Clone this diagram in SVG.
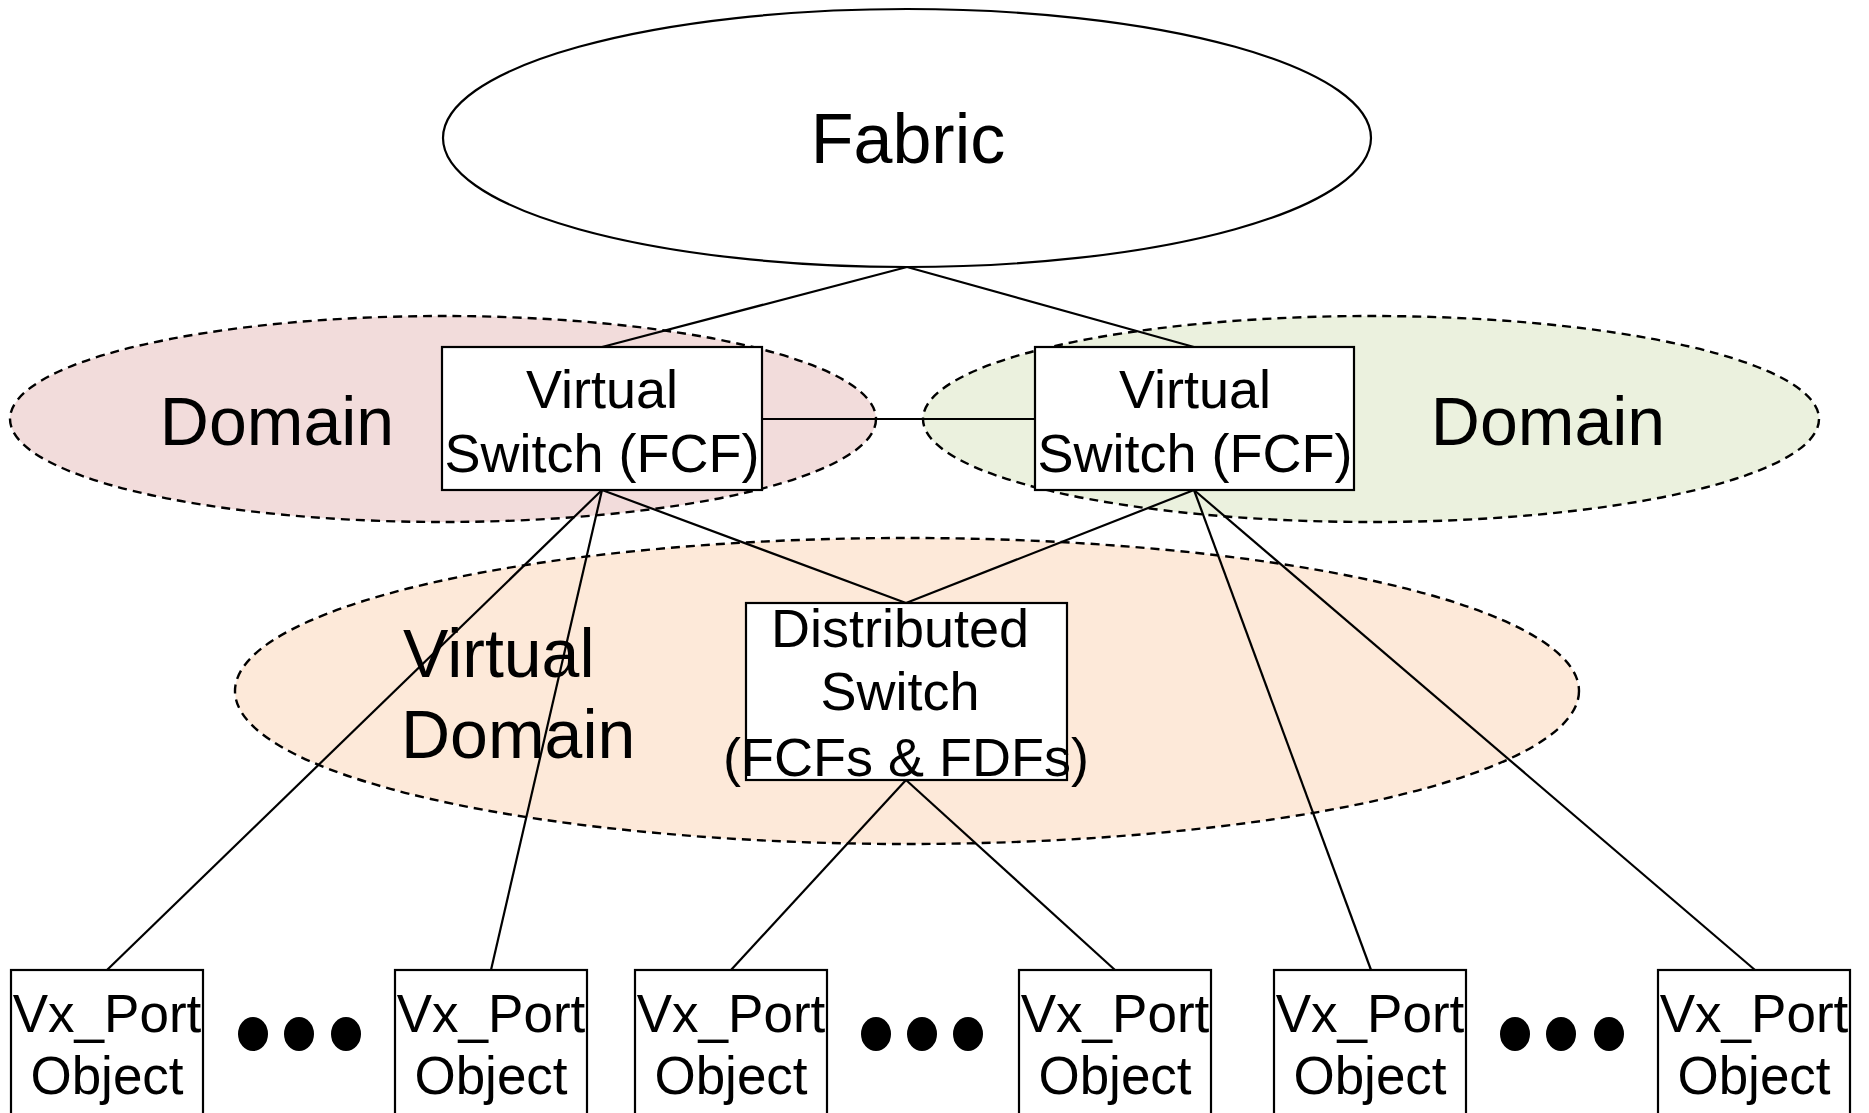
<svg xmlns="http://www.w3.org/2000/svg" width="1869" height="1113" viewBox="0 0 1869 1113">
<style>
text{font-family:"Liberation Sans",Arial,sans-serif;fill:#000;text-anchor:middle}
.box{fill:#fff;stroke:#000;stroke-width:2.2}
.dash{stroke:#000;stroke-width:2.4;stroke-dasharray:9 6}
.lbl{font-size:54px}
.big{font-size:68px}
.port{font-size:53px}
.conn line{stroke:#000;stroke-width:2.2}
.dot{fill:#000}
</style>
<g id="domain-left"><ellipse class="dash" cx="443" cy="419" rx="433" ry="103" fill="#f2dcdb"/><text class="big" x="277" y="445">Domain</text></g>
<g id="domain-right"><ellipse class="dash" cx="1371" cy="419" rx="448" ry="103" fill="#ebf1de"/><text class="big" x="1548" y="445">Domain</text></g>
<g id="virtual-domain"><ellipse class="dash" cx="907" cy="691" rx="672" ry="153" fill="#fde9d9"/><text class="big" x="403" y="677" style="text-anchor:start">Virtual</text><text class="big" x="401" y="758" style="text-anchor:start">Domain</text></g>
<g id="fabric"><ellipse cx="907" cy="138" rx="464" ry="129" fill="#fff" stroke="#000" stroke-width="2.2"/><text x="908" y="163" style="font-size:70px">Fabric</text></g>
<g class="conn" id="connectors">
<line x1="907" y1="267" x2="602" y2="347"/>
<line x1="907" y1="267" x2="1194" y2="347"/>
<line x1="762" y1="419" x2="1035" y2="419"/>
<line x1="602" y1="490" x2="107" y2="970"/>
<line x1="602" y1="490" x2="491" y2="970"/>
<line x1="602" y1="490" x2="906" y2="603"/>
<line x1="1194" y1="490" x2="906" y2="603"/>
<line x1="1194" y1="490" x2="1371" y2="970"/>
<line x1="1194" y1="490" x2="1755" y2="970"/>
<line x1="906" y1="780" x2="731" y2="970"/>
<line x1="906" y1="780" x2="1115" y2="970"/>
</g>
<g id="vs-left"><rect class="box" x="442" y="347" width="320" height="143"/><text class="lbl" x="602" y="408">Virtual</text><text class="lbl" x="602" y="472">Switch (FCF)</text></g>
<g id="vs-right"><rect class="box" x="1035" y="347" width="319" height="143"/><text class="lbl" x="1195" y="408">Virtual</text><text class="lbl" x="1195" y="472">Switch (FCF)</text></g>
<g id="dist-switch"><rect class="box" x="746" y="603" width="321" height="177"/><text class="lbl" x="900" y="647">Distributed</text><text class="lbl" x="900" y="710">Switch</text><text class="lbl" x="906" y="776">(FCFs &amp; FDFs)</text></g>
<g id="port1"><rect class="box" x="11" y="970" width="192" height="160"/><text class="port" x="107" y="1032">Vx_Port</text><text class="port" x="107" y="1094">Object</text></g>
<g id="port2"><rect class="box" x="395" y="970" width="192" height="160"/><text class="port" x="491" y="1032">Vx_Port</text><text class="port" x="491" y="1094">Object</text></g>
<g id="port3"><rect class="box" x="635" y="970" width="192" height="160"/><text class="port" x="731" y="1032">Vx_Port</text><text class="port" x="731" y="1094">Object</text></g>
<g id="port4"><rect class="box" x="1019" y="970" width="192" height="160"/><text class="port" x="1115" y="1032">Vx_Port</text><text class="port" x="1115" y="1094">Object</text></g>
<g id="port5"><rect class="box" x="1274" y="970" width="192" height="160"/><text class="port" x="1370" y="1032">Vx_Port</text><text class="port" x="1370" y="1094">Object</text></g>
<g id="port6"><rect class="box" x="1658" y="970" width="192" height="160"/><text class="port" x="1754" y="1032">Vx_Port</text><text class="port" x="1754" y="1094">Object</text></g>
<g id="dots1"><ellipse class="dot" cx="253" cy="1034" rx="15" ry="17"/><ellipse class="dot" cx="299" cy="1034" rx="15" ry="17"/><ellipse class="dot" cx="346" cy="1034" rx="15" ry="17"/></g>
<g id="dots2"><ellipse class="dot" cx="876" cy="1034" rx="15" ry="17"/><ellipse class="dot" cx="922" cy="1034" rx="15" ry="17"/><ellipse class="dot" cx="968" cy="1034" rx="15" ry="17"/></g>
<g id="dots3"><ellipse class="dot" cx="1515" cy="1034" rx="15" ry="17"/><ellipse class="dot" cx="1561" cy="1034" rx="15" ry="17"/><ellipse class="dot" cx="1609" cy="1034" rx="15" ry="17"/></g>
</svg>
